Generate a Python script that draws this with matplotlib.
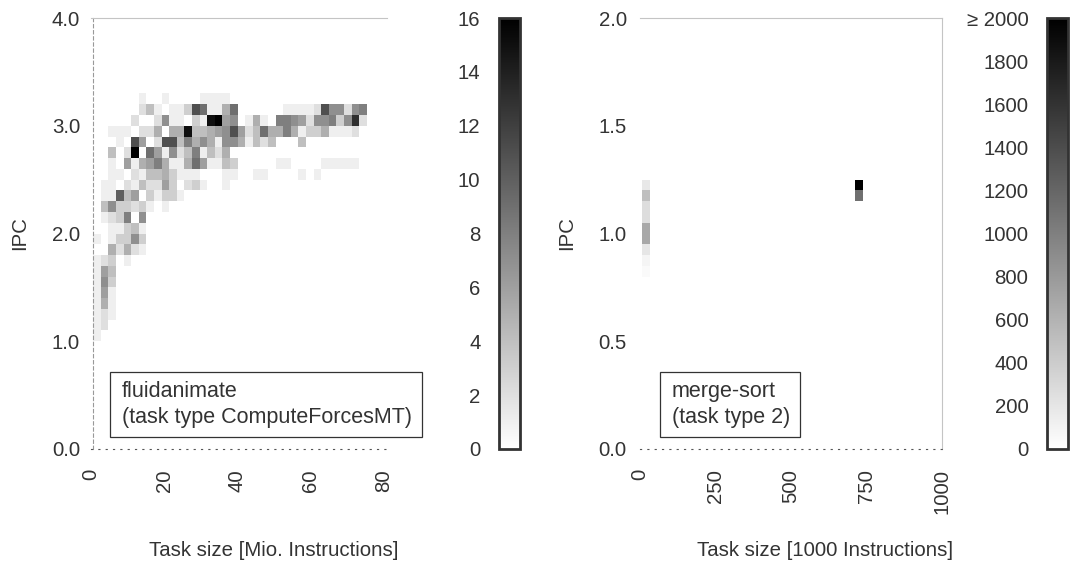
import numpy as np
import matplotlib
matplotlib.use("Agg")
import matplotlib.pyplot as plt
from matplotlib.patches import Rectangle

plt.rcParams['font.family'] = ['Liberation Sans', 'DejaVu Sans']
FS = 14.7
plt.rcParams['font.size'] = FS
TXT = '#333333'

# ---- fluidanimate (task type ComputeForcesMT) ----
# task size bins [Mio. instructions], IPC bins of 0.1 from 1.0 to 3.3
fluid_size_edges = 0.6 + 2.08 * np.arange(37)
fluid_ipc_edges = np.arange(10, 34) / 10.0
# counts per cell, bottom row (IPC 1.0-1.1) first, one entry per size bin
fluid_counts = [
    [1],
    [1, 2],
    [1, 2, 1],
    [1, 5, 1],
    [1, 6, 1],
    [1, 7, 3],
    [1, 6, 4],
    [1, 2, 3, 0, 1],
    [0, 0, 5, 2, 5, 2, 1],
    [1, 0, 1, 3, 3, 7, 3],
    [0, 0, 1, 1, 3, 4, 1],
    [0, 1, 2, 3, 8, 0, 7],
    [0, 4, 7, 3, 3, 2, 3, 1, 0, 1],
    [0, 1, 1, 10, 4, 6, 0, 3, 1, 3, 3, 1],
    [0, 1, 1, 0, 2, 1, 4, 2, 2, 6, 3, 0, 2, 3, 1, 0, 0, 1],
    [0, 0, 1, 1, 0, 2, 1, 4, 4, 5, 3, 1, 1, 1, 0, 0, 0, 1, 1, 0,
     0, 1, 1, 0, 0, 0, 0, 1, 0, 1],
    [0, 0, 1, 0, 6, 1, 5, 6, 8, 5, 1, 1, 5, 9, 6, 1, 1, 4, 3, 0,
     0, 0, 0, 0, 1, 1, 0, 0, 0, 0, 1, 1, 1, 1, 1],
    [0, 0, 4, 0, 2, 16, 0, 9, 6, 1, 7, 2, 4, 8, 1, 4, 2, 5],
    [0, 0, 0, 1, 0, 11, 6, 0, 2, 11, 11, 4, 8, 5, 7, 5, 1, 7, 7, 5,
     1, 4, 2, 4, 0, 0, 0, 4],
    [0, 0, 1, 1, 1, 0, 2, 2, 5, 0, 5, 5, 15, 4, 4, 5, 6, 7, 11, 6,
     2, 4, 9, 5, 5, 8, 5, 1, 3, 3, 5, 1, 1, 1, 2, 0],
    [0, 0, 0, 0, 0, 2, 0, 0, 2, 7, 1, 1, 0, 3, 1, 15, 16, 6, 7, 0,
     1, 5, 1, 0, 8, 8, 7, 6, 2, 7, 7, 8, 3, 7, 13, 2],
    [0, 0, 0, 0, 0, 0, 2, 4, 1, 0, 1, 1, 3, 11, 9, 1, 1, 5, 9, 0,
     0, 0, 0, 0, 0, 1, 1, 1, 1, 2, 11, 7, 7, 2, 7, 8],
    [0, 0, 0, 0, 0, 0, 1, 0, 0, 1, 0, 0, 0, 0, 1, 1, 1, 1],
]
fluid_max = 16

# ---- merge-sort (task type 2) ----
merge_size_edges = [7, 32, 712, 737]          # [1000 instructions]
merge_ipc_edges = np.arange(16, 26) / 20.0    # 0.80 ... 1.25
merge_col_small = [40, 80, 200, 680, 680, 270, 270, 500, 180]
merge_col_large = [0, 0, 0, 0, 0, 0, 0, 1120, 2400]
merge_max = 2000


def pad(row, n):
    return list(row) + [0] * (n - len(row))


fig = plt.figure(figsize=(10.7, 5.68), dpi=100)
W, H = 1070.0, 568.0


def box(x0, y0, x1, y1):
    return [x0 / W, 1 - y1 / H, (x1 - x0) / W, (y1 - y0) / H]


def style_axes(ax, left_dashed):
    for s in ax.spines.values():
        s.set_visible(False)
    ax.spines['top'].set_visible(True)
    ax.spines['top'].set_color('#c4c4c4')
    ax.spines['top'].set_linewidth(0.8)
    ax.spines['bottom'].set_visible(True)
    ax.spines['bottom'].set_color('#555555')
    ax.spines['bottom'].set_linewidth(0.8)
    ax.spines['bottom'].set_linestyle((0, (1, 5.6)))
    if left_dashed:
        ax.spines['left'].set_visible(True)
        ax.spines['left'].set_color('#999999')
        ax.spines['left'].set_linewidth(0.8)
        ax.spines['left'].set_linestyle((0, (3, 2.5)))
    else:
        ax.spines['right'].set_visible(True)
        ax.spines['right'].set_color('#c4c4c4')
        ax.spines['right'].set_linewidth(0.8)
    ax.tick_params(length=0, colors=TXT, labelsize=FS)
    ax.tick_params(axis='x', pad=14.5, labelrotation=90)
    ax.tick_params(axis='y', pad=9.5)
    for lab in ax.get_xticklabels():
        lab.set_va('top')


# left heatmap
ax1 = fig.add_axes(box(91, 18, 387, 449))
grid = np.array([pad(r, 36) for r in fluid_counts], dtype=float)
grid = np.ma.masked_equal(grid, 0)
m1 = ax1.pcolormesh(fluid_size_edges, fluid_ipc_edges, grid,
                    cmap='gray_r', vmin=0, vmax=fluid_max)
ax1.set_xlim(0, 81)
ax1.set_ylim(0, 4)
ax1.set_xticks([0, 20, 40, 60, 80])
ax1.set_yticks([0, 1, 2, 3, 4])
ax1.set_yticklabels(['0.0', '1.0', '2.0', '3.0', '4.0'])
style_axes(ax1, True)
ax1.spines['left'].set_position(('data', 0.6))

cax1 = fig.add_axes(box(498.5, 18, 519.5, 449))
cb1 = fig.colorbar(m1, cax=cax1)
cb1.set_ticks(range(0, 17, 2))
cax1.yaxis.set_ticks_position('left')
cax1.tick_params(length=0, colors=TXT, labelsize=FS, pad=13)
cb1.outline.set_linewidth(2.0)
cb1.outline.set_edgecolor('#333333')

# right heatmap
ax2 = fig.add_axes(box(640, 18, 942, 449))
mgrid = np.array([[a, np.nan, b] for a, b in zip(merge_col_small, merge_col_large)])
mgrid = np.ma.masked_where(~(mgrid > 0), mgrid)
m2 = ax2.pcolormesh(merge_size_edges, merge_ipc_edges, mgrid,
                    cmap='gray_r', vmin=0, vmax=merge_max)
ax2.set_xlim(0, 1000)
ax2.set_ylim(0, 2)
ax2.set_xticks([0, 250, 500, 750, 1000])
ax2.set_yticks([0, 0.5, 1.0, 1.5, 2.0])
ax2.set_yticklabels(['0.0', '0.5', '1.0', '1.5', '2.0'])
style_axes(ax2, False)

cax2 = fig.add_axes(box(1046.5, 18, 1067.5, 449))
cb2 = fig.colorbar(m2, cax=cax2)
cb2.set_ticks(range(0, 2001, 200))
cb2.set_ticklabels([str(v) for v in range(0, 2000, 200)] + ['\u2265 2000'])
cax2.yaxis.set_ticks_position('left')
cax2.tick_params(length=0, colors=TXT, labelsize=FS, pad=13)
cb2.outline.set_linewidth(2.0)
cb2.outline.set_edgecolor('#333333')

# axis labels
fig.text(20 / W, 1 - 233 / H, 'IPC', rotation=90, ha='center', va='center', color=TXT)
fig.text(567 / W, 1 - 233 / H, 'IPC', rotation=90, ha='center', va='center', color=TXT)
fig.text(274 / W, 1 - 551 / H, 'Task size [Mio. Instructions]', ha='center', va='center', color=TXT)
fig.text(825 / W, 1 - 551 / H, 'Task size [1000 Instructions]', ha='center', va='center', color=TXT)

# legend-like boxes
for (x0, x1, label) in [(110, 422, 'fluidanimate\n(task type ComputeForcesMT)'),
                        (660, 800, 'merge-sort\n(task type 2)')]:
    fig.add_artist(Rectangle((x0 / W, 1 - 437 / H), (x1 - x0) / W, 65 / H,
                             transform=fig.transFigure, facecolor='white',
                             edgecolor='#333333', linewidth=0.9, zorder=5))
    fig.text((x0 + 12) / W, 1 - 404.5 / H, label, ha='left', va='center',
             color=TXT, linespacing=1.3, fontsize=15.5, zorder=6)

fig.savefig('out.png', dpi=100)
